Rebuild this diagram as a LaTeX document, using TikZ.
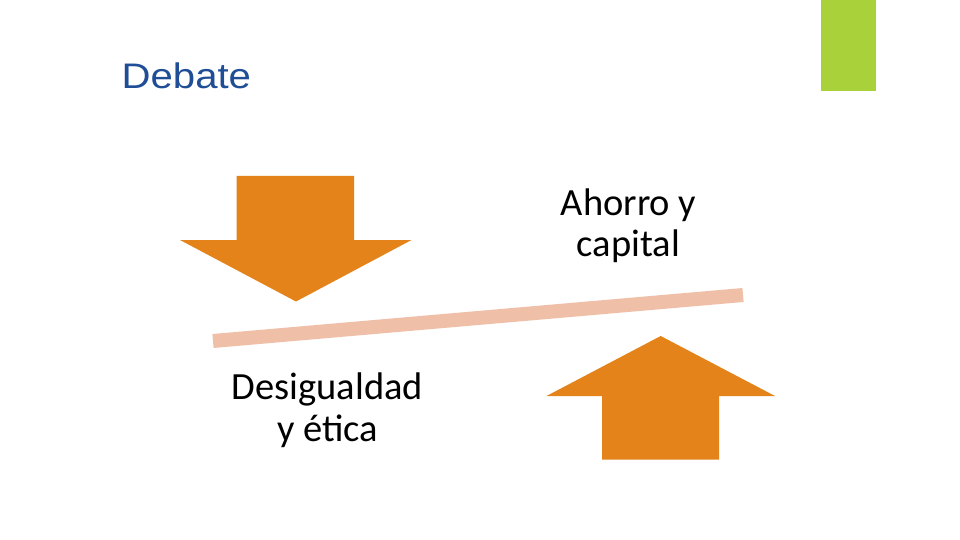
\documentclass[tikz,border=0pt]{standalone}
\usepackage{fontspec}
\setmainfont{Carlito}
\newfontfamily\titlefont{Liberation Sans}
\definecolor{arroworange}{HTML}{E4831A}
\definecolor{beamsalmon}{HTML}{EFBFA8}
\definecolor{greenbar}{HTML}{A8D13A}
\definecolor{titleblue}{HTML}{1F4E96}
\tikzset{
  bigarrow/.style={fill=arroworange},
  lbl/.style={anchor=base, inner sep=0pt, text=black, font=\fontsize{38.5}{41}\selectfont},
}
\begin{document}
\begin{tikzpicture}[x=1pt,y=-1pt]
\useasboundingbox (0,0) rectangle (960,540);
\fill[white] (0,0) rectangle (960,540);
% green bar
\fill[greenbar] (821,0) rectangle (876,91);
% title
\node[anchor=base west, inner sep=0pt, text=titleblue] (title) at (121.5,89)
  {\titlefont\fontsize{35.5}{40}\selectfont\scalebox{1.13}[1]{Debate}};
% beam
\coordinate (beamL) at (213,341);
\coordinate (beamR) at (743,295);
\draw[beamsalmon, line width=14pt] (beamL) -- (beamR);
% down arrow
\fill[bigarrow] (236.7,176) -- (354,176) -- (354,240) -- (411.5,240) -- (296,301.5)
  -- (180,240) -- (236.7,240) -- cycle;
% up arrow
\fill[bigarrow] (602,459.5) -- (719,459.5) -- (719,396) -- (775,396) -- (660.7,336)
  -- (546.5,396) -- (602,396) -- cycle;
% labels
\node[lbl] (ahorro) at (628.5,215) {Ahorro y};
\node[lbl] (capital) at (628.5,256.5) {capital};
\node[lbl] (desig) at (327.5,399.5) {Desigualdad};
\node[lbl] (etica) at (327.5,441) {y ética};
\end{tikzpicture}
\end{document}
